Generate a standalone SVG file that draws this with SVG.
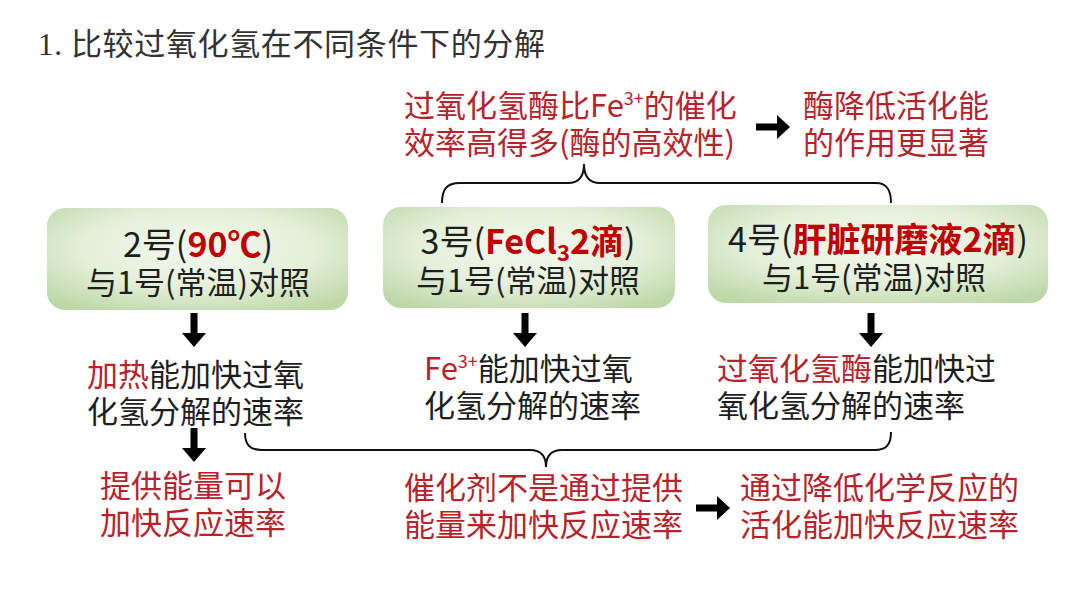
<svg xmlns="http://www.w3.org/2000/svg" width="1080" height="608" viewBox="0 0 1080 608">
<style>
.t{font-family:'Noto Sans CJK SC','Noto Sans',sans-serif;font-size:31px;fill:#1e1e1e}
.r{fill:#b8232b}
.b{font-weight:bold;fill:#c00000}
.bx{stroke:none}
.l1{font-size:34px}
.br{fill:none;stroke:#111;stroke-width:2}
.title{font-family:'Liberation Serif','Noto Sans CJK SC',serif;font-size:31px;fill:#333}
</style>
<defs>
<radialGradient id="g" cx="50%" cy="40%" r="70%">
<stop offset="0" stop-color="#f4f9ef"/>
<stop offset="0.55" stop-color="#e4efd9"/>
<stop offset="1" stop-color="#bdd7a7"/>
</radialGradient>
<path id="da" d="M-3.5,0 h7 v20 h8.5 l-12,14 l-12,-14 h8.5 z" fill="#000"/>
<path id="ra" d="M0,-3.5 h21 v-8.5 l13,12 l-13,12 v-8.5 h-21 z" fill="#000"/>
</defs>
<rect width="1080" height="608" fill="#fff"/>
<text id="title" class="title" x="38" y="55" textLength="507">1. 比较过氧化氢在不同条件下的分解</text>

<g id="top-note">
<text class="t r" x="404" y="117">过氧化氢酶比Fe<tspan font-size="18" dy="-12">3+</tspan><tspan dy="12">的催化</tspan></text>
<text class="t r" x="404" y="154">效率高得多(酶的高效性)</text>
</g>
<g id="top-result">
<text class="t r" x="803" y="117">酶降低活化能</text>
<text class="t r" x="803" y="154">的作用更显著</text>
</g>

<g id="box2">
<rect class="bx" x="47" y="208" width="301" height="102" rx="18" fill="url(#g)"/>
<text class="t l1" x="198" y="257" text-anchor="middle">2号(<tspan class="b">90℃</tspan>)</text>
<text class="t" x="198" y="294" text-anchor="middle">与1号(常温)对照</text>
</g>
<g id="box3">
<rect class="bx" x="383" y="207" width="292" height="101" rx="18" fill="url(#g)"/>
<text class="t l1" x="528" y="254" text-anchor="middle">3号(<tspan class="b">FeCl</tspan><tspan class="b" font-size="22" dy="7">3</tspan><tspan class="b" dy="-7">2滴</tspan>)</text>
<text class="t" x="528" y="292" text-anchor="middle">与1号(常温)对照</text>
</g>
<g id="box4">
<rect class="bx" x="708" y="205" width="340" height="98" rx="18" fill="url(#g)"/>
<text class="t l1" x="878" y="252" text-anchor="middle">4号(<tspan class="b">肝脏研磨液2滴</tspan>)</text>
<text class="t" x="874" y="289" text-anchor="middle">与1号(常温)对照</text>
</g>

<g id="res2">
<text class="t" x="87" y="386"><tspan class="r">加热</tspan>能加快过氧</text>
<text class="t" x="87" y="423">化氢分解的速率</text>
</g>
<g id="res3">
<text class="t" x="424" y="380"><tspan class="r">Fe</tspan><tspan class="r" font-size="18" dy="-12">3+</tspan><tspan dy="12">能加快过氧</tspan></text>
<text class="t" x="424" y="417">化氢分解的速率</text>
</g>
<g id="res4">
<text class="t" x="717" y="380"><tspan class="r">过氧化氢酶</tspan>能加快过</text>
<text class="t" x="717" y="417">氧化氢分解的速率</text>
</g>
<g id="heat">
<text class="t r" x="100" y="497">提供能量可以</text>
<text class="t r" x="100" y="534">加快反应速率</text>
</g>
<g id="catalyst">
<text class="t r" x="404" y="499">催化剂不是通过提供</text>
<text class="t r" x="404" y="536">能量来加快反应速率</text>
</g>
<g id="conclusion">
<text class="t r" x="740" y="499">通过降低化学反应的</text>
<text class="t r" x="740" y="536">活化能加快反应速率</text>
</g>

<g id="connectors">
<path class="br" d="M442,203 C442,190 446,183 460,183 L568,183 C578,183 584,178 584,164 C584,178 590,183 600,183 L876,183 C887,183 891,190 891,203"/>
<path class="br" d="M245,433 C245,445 250,450 262,450 L530,450 C540,450 546,455 546,467 C546,455 552,450 562,450 L875,450 C886,450 891,445 891,432"/>
<use href="#da" x="194" y="313"/>
<use href="#da" x="194" y="428"/>
<use href="#da" x="525" y="313"/>
<use href="#da" x="871" y="313"/>
<use href="#ra" x="756" y="127"/>
<use href="#ra" x="696" y="508"/>
</g>
</svg>
